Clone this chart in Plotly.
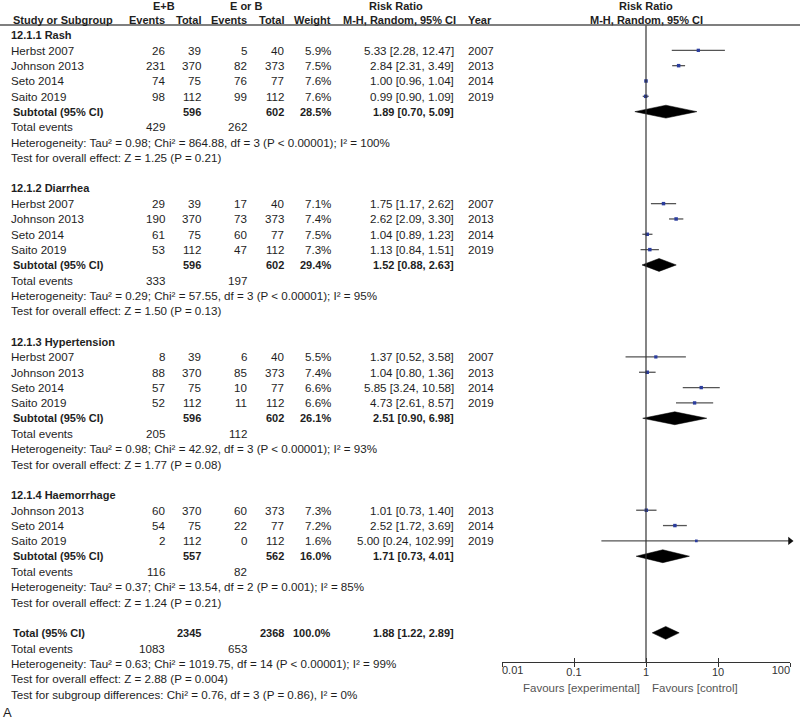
import plotly.graph_objects as go

# ---------------- data ----------------
group_titles = ["12.1.1 Rash", "12.1.2 Diarrhea", "12.1.3 Hypertension", "12.1.4 Haemorrhage"]

study_names = [
    ["Herbst 2007", "Johnson 2013", "Seto 2014", "Saito 2019"],
    ["Herbst 2007", "Johnson 2013", "Seto 2014", "Saito 2019"],
    ["Herbst 2007", "Johnson 2013", "Seto 2014", "Saito 2019"],
    ["Johnson 2013", "Seto 2014", "Saito 2019"],
]
exp_events = [[26, 231, 74, 98], [29, 190, 61, 53], [8, 88, 57, 52], [60, 54, 2]]
exp_total = [[39, 370, 75, 112], [39, 370, 75, 112], [39, 370, 75, 112], [370, 75, 112]]
ctl_events = [[5, 82, 76, 99], [17, 73, 60, 47], [6, 85, 10, 11], [60, 22, 0]]
ctl_total = [[40, 373, 77, 112], [40, 373, 77, 112], [40, 373, 77, 112], [373, 77, 112]]
weights = [[5.9, 7.5, 7.6, 7.6], [7.1, 7.4, 7.5, 7.3], [5.5, 7.4, 6.6, 6.6], [7.3, 7.2, 1.6]]
rr = [[5.33, 2.84, 1.00, 0.99], [1.75, 2.62, 1.04, 1.13], [1.37, 1.04, 5.85, 4.73], [1.01, 2.52, 5.00]]
rr_lo = [[2.28, 2.31, 0.96, 0.90], [1.17, 2.09, 0.89, 0.84], [0.52, 0.80, 3.24, 2.61], [0.73, 1.72, 0.24]]
rr_hi = [[12.47, 3.49, 1.04, 1.09], [2.62, 3.30, 1.23, 1.51], [3.58, 1.36, 10.58, 8.57], [1.40, 3.69, 102.99]]
years = [[2007, 2013, 2014, 2019], [2007, 2013, 2014, 2019], [2007, 2013, 2014, 2019], [2013, 2014, 2019]]

sub_exp_total = [596, 596, 596, 557]
sub_ctl_total = [602, 602, 602, 562]
sub_weight = [28.5, 29.4, 26.1, 16.0]
sub_rr = [1.89, 1.52, 2.51, 1.71]
sub_lo = [0.70, 0.88, 0.90, 0.73]
sub_hi = [5.09, 2.63, 6.98, 4.01]
sub_exp_events = [429, 333, 205, 116]
sub_ctl_events = [262, 197, 112, 82]
sub_het = [
    "Heterogeneity: Tau² = 0.98; Chi² = 864.88, df = 3 (P < 0.00001); I² = 100%",
    "Heterogeneity: Tau² = 0.29; Chi² = 57.55, df = 3 (P < 0.00001); I² = 95%",
    "Heterogeneity: Tau² = 0.98; Chi² = 42.92, df = 3 (P < 0.00001); I² = 93%",
    "Heterogeneity: Tau² = 0.37; Chi² = 13.54, df = 2 (P = 0.001); I² = 85%",
]
sub_test = [
    "Test for overall effect: Z = 1.25 (P = 0.21)",
    "Test for overall effect: Z = 1.50 (P = 0.13)",
    "Test for overall effect: Z = 1.77 (P = 0.08)",
    "Test for overall effect: Z = 1.24 (P = 0.21)",
]

tot_exp_total = 2345
tot_ctl_total = 2368
tot_weight = 100.0
tot_rr = 1.88
tot_lo = 1.22
tot_hi = 2.89
tot_exp_events = 1083
tot_ctl_events = 653
tot_het = "Heterogeneity: Tau² = 0.63; Chi² = 1019.75, df = 14 (P < 0.00001); I² = 99%"
tot_test = "Test for overall effect: Z = 2.88 (P = 0.004)"
subgroup_test = "Test for subgroup differences: Chi² = 0.76, df = 3 (P = 0.86), I² = 0%"

tick_vals = [0.01, 0.1, 1, 10, 100]
tick_text = ["0.01", "0.1", "1", "10", "100"]
x_min, x_max = 0.01, 100

# ---------------- layout helpers ----------------
W, H = 800, 721
ROW0_PX, ROW_H = 35.0, 15.33


def row_of_px(p):
    return (p - ROW0_PX) / ROW_H


FONT = "Arial, 'Liberation Sans', sans-serif"
FS = 11.6
FS_B = 11
TXT = "#1e1e1e"
CI_COLOR = "#555555"
PT_COLOR = "#2b3d9e"

C_NAME, C_EEV, C_ETOT, C_CEV, C_CTOT, C_W, C_RR, C_YEAR = 10, 166, 202, 248, 285, 332, 455, 467

ann = []


def txt(x, r, s, anchor="left", bold=False, color=TXT, size=None):
    if size is None:
        size = FS_B if bold else FS
    if bold:
        s = "<b>" + s + "</b>"
    ann.append(dict(x=x, y=r, xref="x", yref="y", text=s, showarrow=False,
                    xanchor=anchor, yanchor="middle", borderpad=0,
                    font=dict(family=FONT, size=size, color=color)))


def fmt_ci(e, lo, hi):
    return f"{e:.2f} [{lo:.2f}, {hi:.2f}]"


fig = go.Figure()

# headers
rh1 = row_of_px(6)
rh2 = row_of_px(20)
txt(164, rh1, "E+B", "center", bold=True)
txt(246, rh1, "E or B", "center", bold=True)
txt(396, rh1, "Risk Ratio", "center", bold=True)
txt(646, rh1, "Risk Ratio", "center", bold=True)
txt(12, rh2, "Study or Subgroup", "left", bold=True)
txt(C_EEV, rh2, "Events", "right", bold=True)
txt(C_ETOT, rh2, "Total", "right", bold=True)
txt(C_CEV, rh2, "Events", "right", bold=True)
txt(C_CTOT, rh2, "Total", "right", bold=True)
txt(C_W, rh2, "Weight", "right", bold=True)
txt(399, rh2, "M-H, Random, 95% CI", "center", bold=True)
txt(C_YEAR, rh2, "Year", "left", bold=True)
txt(646, rh2, "M-H, Random, 95% CI", "center", bold=True)

DIAMOND_H = 0.42


def diamond(r, est, lo, hi):
    fig.add_trace(go.Scatter(
        x=[lo, est, hi, est, lo], y=[r, r - DIAMOND_H, r, r + DIAMOND_H, r],
        xaxis="x2", yaxis="y", mode="lines", fill="toself",
        fillcolor="#000000", line=dict(color="#000000", width=0.5),
        hoverinfo="skip"))


r = 0
for g in range(len(group_titles)):
    txt(C_NAME, r, group_titles[g], bold=True)
    r += 1
    for i in range(len(study_names[g])):
        txt(C_NAME, r, study_names[g][i])
        txt(C_EEV, r, str(exp_events[g][i]), "right")
        txt(C_ETOT, r, str(exp_total[g][i]), "right")
        txt(C_CEV, r, str(ctl_events[g][i]), "right")
        txt(C_CTOT, r, str(ctl_total[g][i]), "right")
        txt(C_W, r, f"{weights[g][i]:.1f}%", "right")
        txt(C_RR, r, fmt_ci(rr[g][i], rr_lo[g][i], rr_hi[g][i]), "right")
        txt(C_YEAR, r, str(years[g][i]))
        hi = min(rr_hi[g][i], x_max)
        lo = max(rr_lo[g][i], x_min)
        fig.add_trace(go.Scatter(x=[lo, hi], y=[r, r], xaxis="x2", yaxis="y",
                                 mode="lines", line=dict(color=CI_COLOR, width=1.3),
                                 hoverinfo="skip"))
        fig.add_trace(go.Scatter(x=[rr[g][i]], y=[r], xaxis="x2", yaxis="y",
                                 mode="markers",
                                 marker=dict(symbol="square", size=2.5 + weights[g][i] / 7.6 * 1.0,
                                             color=PT_COLOR),
                                 hoverinfo="skip"))
        if rr_hi[g][i] > x_max:
            fig.add_trace(go.Scatter(x=[x_max], y=[r], xaxis="x2", yaxis="y",
                                     mode="markers", cliponaxis=False,
                                     marker=dict(symbol="triangle-right", size=7, color="#111111"),
                                     hoverinfo="skip"))
        r += 1
    txt(12, r, "Subtotal (95% CI)", bold=True)
    txt(C_ETOT, r, str(sub_exp_total[g]), "right", bold=True)
    txt(C_CTOT, r, str(sub_ctl_total[g]), "right", bold=True)
    txt(C_W, r, f"{sub_weight[g]:.1f}%", "right", bold=True)
    txt(C_RR, r, fmt_ci(sub_rr[g], sub_lo[g], sub_hi[g]), "right", bold=True)
    diamond(r, sub_rr[g], sub_lo[g], sub_hi[g])
    r += 1
    txt(C_NAME, r, "Total events")
    txt(C_EEV, r, str(sub_exp_events[g]), "right")
    txt(C_CEV, r, str(sub_ctl_events[g]), "right")
    r += 1
    txt(C_NAME, r, sub_het[g])
    r += 1
    txt(C_NAME, r, sub_test[g])
    r += 2

# overall
txt(12, r, "Total (95% CI)", bold=True)
txt(C_ETOT, r, str(tot_exp_total), "right", bold=True)
txt(C_CTOT, r, str(tot_ctl_total), "right", bold=True)
txt(C_W, r, f"{tot_weight:.1f}%", "right", bold=True)
txt(C_RR, r, fmt_ci(tot_rr, tot_lo, tot_hi), "right", bold=True)
diamond(r, tot_rr, tot_lo, tot_hi)
r += 1
txt(C_NAME, r, "Total events")
txt(C_EEV, r, str(tot_exp_events), "right")
txt(C_CEV, r, str(tot_ctl_events), "right")
r += 1
txt(C_NAME, r, tot_het)
r += 1
txt(C_NAME, r, tot_test)
r += 1
txt(C_NAME, r, subgroup_test)

txt(2, row_of_px(712), "A", size=13)

AXIS_PX = 662
# null line
fig.add_trace(go.Scatter(x=[1, 1], y=[row_of_px(25), row_of_px(AXIS_PX)], xaxis="x2", yaxis="y",
                         mode="lines", line=dict(color="#333333", width=1.2), hoverinfo="skip"))
# invisible anchor traces so the overlay axes (ticks / end labels) are drawn
for ax in ["x3", "x4", "x5"]:
    fig.add_trace(go.Scatter(x=[1], y=[row_of_px(AXIS_PX)], xaxis=ax, yaxis="y",
                             mode="markers", marker=dict(size=1, opacity=0), hoverinfo="skip"))

# favours labels
r_fav = row_of_px(688)
txt(641, r_fav, "Favours [experimental]", "right", color="#555555", size=11.5)
txt(651, r_fav, "Favours [control]", "left", color="#555555", size=11.5)

axis_pos = (H - AXIS_PX) / H
dom = [502 / W, 790 / W]
tick_font = dict(family=FONT, size=11, color="#333333")
common = dict(type="log", range=[-2, 2], domain=dom, anchor="free", position=axis_pos,
              showgrid=False, zeroline=False, fixedrange=True, automargin=False,
              tickcolor="#333333", tickwidth=1.2, tickfont=tick_font)

mid_text = [t if 0 < k < len(tick_text) - 1 else "" for k, t in enumerate(tick_text)]

fig.update_layout(
    width=W, height=H,
    margin=dict(l=0, r=0, t=0, b=0, pad=0, autoexpand=False),
    paper_bgcolor="white", plot_bgcolor="white",
    showlegend=False,
    annotations=ann,
    shapes=[dict(type="line", xref="paper", yref="y", x0=0, x1=1,
                 y0=row_of_px(25), y1=row_of_px(25),
                 line=dict(color="#555555", width=1.5))],
    xaxis=dict(range=[0, W], domain=[0, 1], visible=False, fixedrange=True, automargin=False),
    yaxis=dict(range=[row_of_px(H), row_of_px(0)], domain=[0, 1], visible=False,
               fixedrange=True, automargin=False),
    xaxis2=dict(**common, showline=True, linecolor="#333333", linewidth=1.2,
                ticks="inside", ticklen=4,
                tickvals=tick_vals, ticktext=mid_text),
    xaxis3=dict(**common, overlaying="x2", showline=False,
                ticks="outside", ticklen=4,
                tickvals=tick_vals, showticklabels=False),
    xaxis4=dict(**common, overlaying="x2", showline=False, ticks="",
                tickvals=[tick_vals[0]], ticktext=[tick_text[0]],
                ticklabelposition="outside right"),
    xaxis5=dict(**common, overlaying="x2", showline=False, ticks="",
                tickvals=[tick_vals[-1]], ticktext=[tick_text[-1]],
                ticklabelposition="outside left"),
)

fig.write_html("out.html", config={"displayModeBar": False},
               post_script="document.body.style.margin='0px';document.body.style.overflow='hidden';")
